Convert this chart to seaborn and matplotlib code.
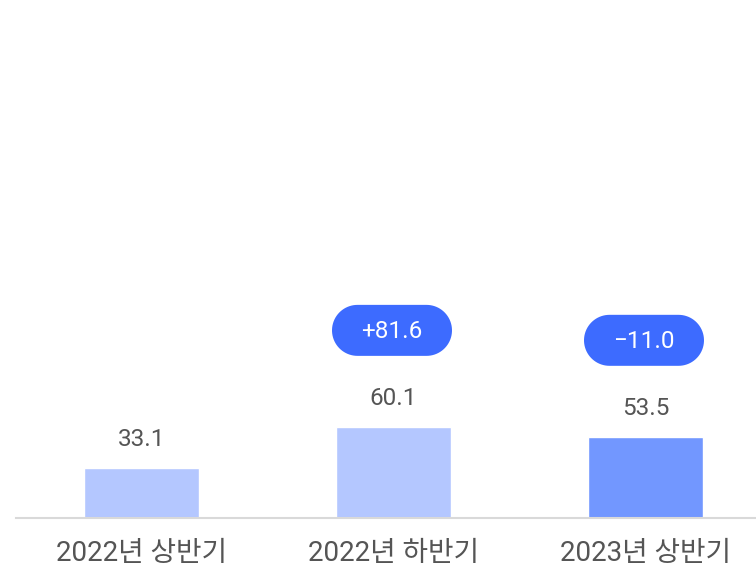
import matplotlib
matplotlib.use('Agg')
import matplotlib.pyplot as plt
from matplotlib.patches import Polygon
from matplotlib.transforms import IdentityTransform
import seaborn as sns
import pandas as pd
import numpy as np

# Dados
categorias = ['2022년 상반기', '2022년 하반기', '2023년 상반기']
valores = [33.1, 60.1, 53.5]
rotulos = ['33.1', '60.1', '53.5']
variacoes = [None, '+81.6', '\u221211.0']
cores = ['#b4c7ff', '#b4c7ff', '#7297ff']

sns.set_theme(style='white')
plt.rcParams['font.family'] = ['Roboto', 'Noto Sans CJK KR', 'DejaVu Sans']


def pill(cx, cy, w, h):
    """Contorno de uma pílula (retângulo com pontas arredondadas) em pixels."""
    r = h / 2
    a = np.linspace(-np.pi / 2, np.pi / 2, 40)
    right = np.column_stack([cx + w / 2 - r + r * np.cos(a), cy + r * np.sin(a)])
    left = np.column_stack([cx - w / 2 + r - r * np.cos(a), cy - r * np.sin(a)])
    return np.vstack([right, left])


df = pd.DataFrame({'categoria': categorias, 'valor': valores})

fig = plt.figure(figsize=(7.56, 5.69), dpi=100)
ax = fig.add_axes([15.5 / 756, 51 / 569, 1.0, 518 / 569])
sns.barplot(data=df, x='categoria', y='valor', hue='categoria', palette=cores,
            width=0.456, legend=False, ax=ax, saturation=1)

ax.set_xlim(-0.5, 2.5)
ax.set_ylim(0, 343.5)
for s in ['top', 'right', 'left']:
    ax.spines[s].set_visible(False)
ax.spines['bottom'].set_color('#d9d9d9')
ax.spines['bottom'].set_linewidth(1.5)
ax.set_yticks([])
ax.set_xlabel('')
ax.set_ylabel('')
ax.tick_params(axis='x', length=0, pad=16, labelsize=20, labelcolor='#555555')

# Rótulos de valor
for i, (v, r) in enumerate(zip(valores, rotulos)):
    ax.annotate(r, (i, v), xytext=(0, 20.5), textcoords='offset points',
                ha='center', va='center', fontsize=17.5, color='#555555')

# Badges de variação
fig.canvas.draw()
for i, (v, t) in enumerate(zip(valores, variacoes)):
    if t is None:
        continue
    px, py = ax.transData.transform((i, v))
    cy = py + 97
    badge = Polygon(pill(px - 1.5, cy, 120, 51), closed=True, facecolor='#3d6bff',
                    edgecolor='none', transform=IdentityTransform())
    fig.patches.append(badge)
    fig.text((px - 1.5) / fig.bbox.width, (cy - 1) / fig.bbox.height, t,
             ha='center', va='center', fontsize=17.5, color='white')

plt.savefig('out.png', dpi=100)
